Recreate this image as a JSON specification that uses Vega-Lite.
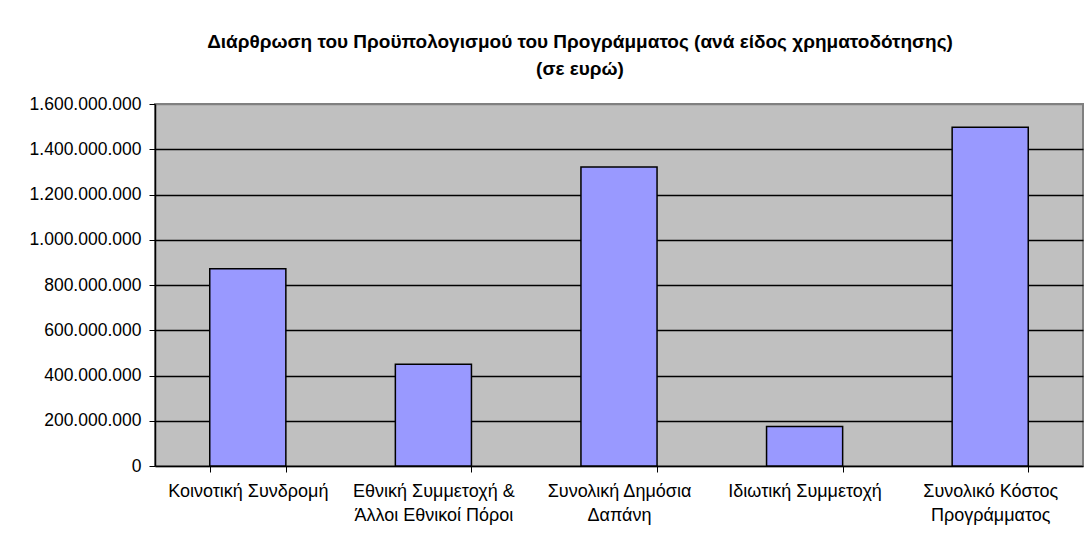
{
  "$schema": "https://vega.github.io/schema/vega-lite/v6.json",
  "autosize": "none",
  "width": 928,
  "height": 362,
  "padding": {"left": 155, "top": 104, "right": 3, "bottom": 80},
  "background": "white",
  "title": {
    "text": ["Διάρθρωση του Προϋπολογισμού του Προγράμματος (ανά είδος χρηματοδότησης)", "(σε ευρώ)"],
    "anchor": "middle",
    "frame": "group",
    "dx": -39,
    "offset": 16,
    "font": "Liberation Sans",
    "fontSize": 19,
    "fontWeight": "bold",
    "color": "black",
    "lineHeight": 27
  },
  "data": {
    "values": [
      {"category": "Κοινοτική Συνδρομή", "amount": 872000000},
      {"category": "Εθνική Συμμετοχή &\nΆλλοι Εθνικοί Πόροι", "amount": 450000000},
      {"category": "Συνολική Δημόσια\nΔαπάνη", "amount": 1322000000},
      {"category": "Ιδιωτική Συμμετοχή", "amount": 175000000},
      {"category": "Συνολικό Κόστος\nΠρογράμματος", "amount": 1497000000}
    ]
  },
  "mark": {"type": "bar", "color": "#9999FF", "stroke": "black", "strokeWidth": 1.5},
  "encoding": {
    "x": {
      "field": "category",
      "type": "nominal",
      "sort": null,
      "title": null,
      "scale": {"paddingInner": 0.59, "paddingOuter": 0.295},
      "axis": {
        "labelAngle": 0,
        "labelExpr": "split(datum.label, '\\n')",
        "labelFont": "Liberation Sans",
        "labelFontSize": 18,
        "labelColor": "black",
        "labelLineHeight": 24,
        "labelPadding": 10,
        "labelLimit": 300,
        "tickBand": "extent",
        "tickColor": "black",
        "tickSize": 6,
        "domainColor": "black",
        "domainWidth": 1.5,
        "tickWidth": 1
      }
    },
    "y": {
      "field": "amount",
      "type": "quantitative",
      "title": null,
      "scale": {"domain": [0, 1600000000], "nice": false},
      "axis": {
        "values": [0, 200000000, 400000000, 600000000, 800000000, 1000000000, 1200000000, 1400000000, 1600000000],
        "format": ",.0f",
        "labelFont": "Liberation Sans",
        "labelFontSize": 17.5,
        "labelColor": "black",
        "labelPadding": 8,
        "tickColor": "black",
        "tickSize": 6,
        "domainColor": "black",
        "domainWidth": 1.5,
        "grid": true,
        "gridColor": {"condition": {"test": "datum.value === 1600000000 || datum.value === 0", "value": "#808080"}, "value": "black"},
        "gridWidth": 1.5,
        "gridOpacity": 1
      }
    }
  },
  "config": {
    "locale": {"number": {"decimal": ",", "thousands": ".", "grouping": [3], "currency": ["", " €"]}},
    "view": {"fill": "#C0C0C0", "stroke": "#808080", "strokeWidth": 2}
  }
}
